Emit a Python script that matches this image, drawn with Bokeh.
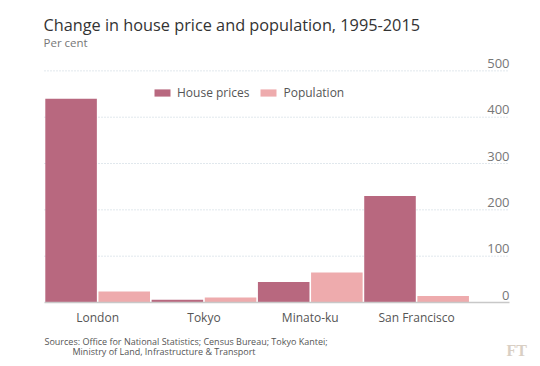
from bokeh.plotting import figure
from bokeh.models import Range1d, Label, Legend, LegendItem, ColumnDataSource
from bokeh.core.properties import value
from bokeh.transform import dodge
from bokeh.embed import file_html
from bokeh.resources import INLINE

cities = ["London", "Tokyo", "Minato-ku", "San Francisco"]
house_prices = [440, 6, 44, 230]
population = [24, 11, 65, 14]
y_ticks = [0, 100, 200, 300, 400, 500]

FONT = "Open Sans"
HOUSE_C = "#b8687f"
POP_C = "#eeabad"

W, H = 540, 366
# chart area in canvas pixels
CL, CR, CT, CB = 44, 509, 56, 302
X_END = 4.374          # category units spanned by the chart area
Y_END = 531            # value at top of chart area
KX = X_END / (CR - CL)
KY = Y_END / (CB - CT)
def dx(px):
    return (px - CL) * KX
def dy(py):
    return (CB - py) * KY

xpos = [i + 0.5 for i in range(len(cities))]
src = ColumnDataSource(dict(x=xpos, house=house_prices, pop=population, city=cities))

p = figure(width=W, height=H, output_backend="svg", toolbar_location=None,
           x_range=Range1d(dx(0), dx(W)), y_range=Range1d(dy(H), dy(0)),
           x_axis_location=None, y_axis_location=None,
           min_border=0)
p.outline_line_color = None
p.background_fill_color = "white"
p.border_fill_color = "white"
p.grid.visible = False

# dotted gridlines and baseline
grid_src = ColumnDataSource(dict(x0=[0] * (len(y_ticks) - 1), x1=[X_END] * (len(y_ticks) - 1),
                                 y=y_ticks[1:]))
p.segment(x0="x0", y0="y", x1="x1", y1="y", source=grid_src,
          line_color="#c3d0da", line_dash="1 2", line_width=1)

r1 = p.vbar(x=dodge("x", -0.25, range=p.x_range), top="house", width=0.485, source=src,
            fill_color=HOUSE_C, line_color=None)
r2 = p.vbar(x=dodge("x", 0.25, range=p.x_range), top="pop", width=0.485, source=src,
            fill_color=POP_C, line_color=None)

p.segment(x0=[0], y0=[y_ticks[0]], x1=[X_END], y1=[y_ticks[0]],
          line_color="#c8c8c8", line_width=1.5)

# category labels
p.text(x="x", y=0, text="city", source=src, text_align="center", text_baseline="middle",
       y_offset=15, text_font=value(FONT), text_font_size="12px", text_color="#555555")

# value labels on the right, above the gridlines
tick_src = ColumnDataSource(dict(x=[X_END] * len(y_ticks), y=y_ticks, t=[str(v) for v in y_ticks]))
p.text(x="x", y="y", text="t", source=tick_src, text_align="right", text_baseline="bottom",
       y_offset=-3, text_font=value(FONT), text_font_size="13px", text_color="#777777")

# legend
legend = Legend(items=[LegendItem(label="House prices", renderers=[r1]),
                       LegendItem(label="Population", renderers=[r2])],
                orientation="horizontal", location=(152, 265),
                glyph_width=20, glyph_height=9, label_standoff=5, spacing=9,
                padding=0, margin=0, background_fill_alpha=0, border_line_color=None,
                label_text_font=FONT, label_text_font_size="12px", label_text_color="#555555")
p.add_layout(legend)

# titles and notes
def lab(text, px, py, size, color, font=FONT, style="normal"):
    p.add_layout(Label(x=dx(px), y=dy(py), text=text,
                       text_font=font, text_font_size=size, text_color=color,
                       text_font_style=style, text_baseline="alphabetic"))

lab("Change in house price and population, 1995-2015", 43, 24, "16.3px", "#333333")
lab("Per cent", 43, 42, "11.5px", "#777777")
lab("Sources: Office for National Statistics; Census Bureau; Tokyo Kantei;", 44, 341, "9px", "#555555")
lab("Ministry of Land, Infrastructure & Transport", 72, 351, "9px", "#555555")
lab("FT", 506, 350, "16px", "#d9cfc4", font="Liberation Serif", style="bold")

open("out.html", "w").write(file_html(p, INLINE))
